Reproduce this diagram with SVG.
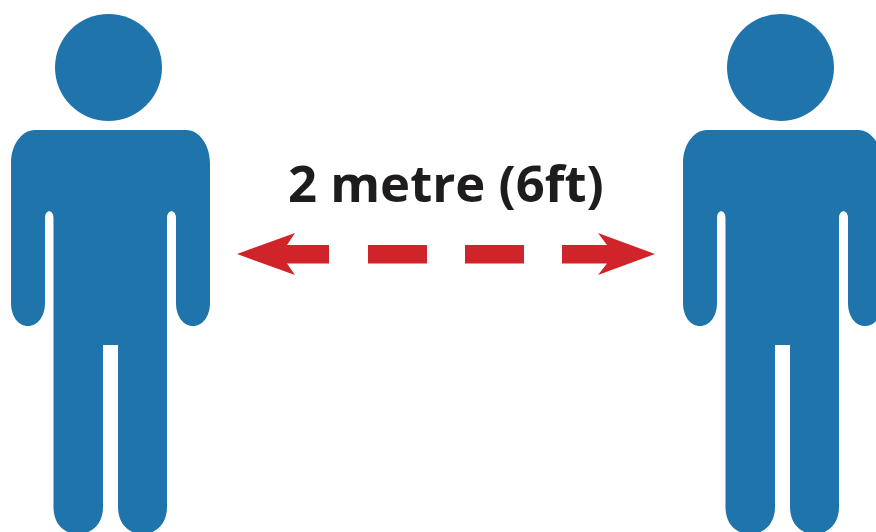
<svg xmlns="http://www.w3.org/2000/svg" width="876" height="532" viewBox="0 0 876 532">
<style>
.p{fill:#1f74ab}
.a{fill:#cf2429}
.t{font-family:"Open Sans","Noto Sans","Liberation Sans",sans-serif;font-weight:700;font-size:50.800px;fill:#1f1c1d}
</style>
<defs>
<g id="person">
<circle class="p" cx="108.500" cy="67.500" r="53.500"/>
<path class="p" d="M35 130H186C200 130 210 146 210 163V303C210 316 203 326 193 326C183 326 176 316 176 303V218C176 209 167 209 167 218V507C167 523 157 534 142.500 534C128 534 118 523 118 507V345H103V507C103 523 93 534 78 534C63 534 53.500 523 53.500 507V218C53.500 209 45 209 45 218V303C45 316 38 326 28 326C18 326 11 316 11 303V163C11 146 21 130 35 130Z"/>
</g>
</defs>
<rect width="876" height="532" fill="#fff"/>
<g id="person-left"><use href="#person"/></g>
<g id="person-right"><use href="#person" x="672"/></g>
<g id="connectors">
<path class="a" d="M237 254L295 233L287 245H329V263.500H287L295 275Z"/>
<rect class="a" x="368" y="245" width="59" height="18.500"/>
<rect class="a" x="465" y="245" width="59" height="18.500"/>
<path class="a" d="M655 254L598 233L607 245H562V263.500H607L598 275Z"/>
</g>
<g id="label"><text class="t" x="288" y="202">2 metre (6ft)</text></g>
</svg>
